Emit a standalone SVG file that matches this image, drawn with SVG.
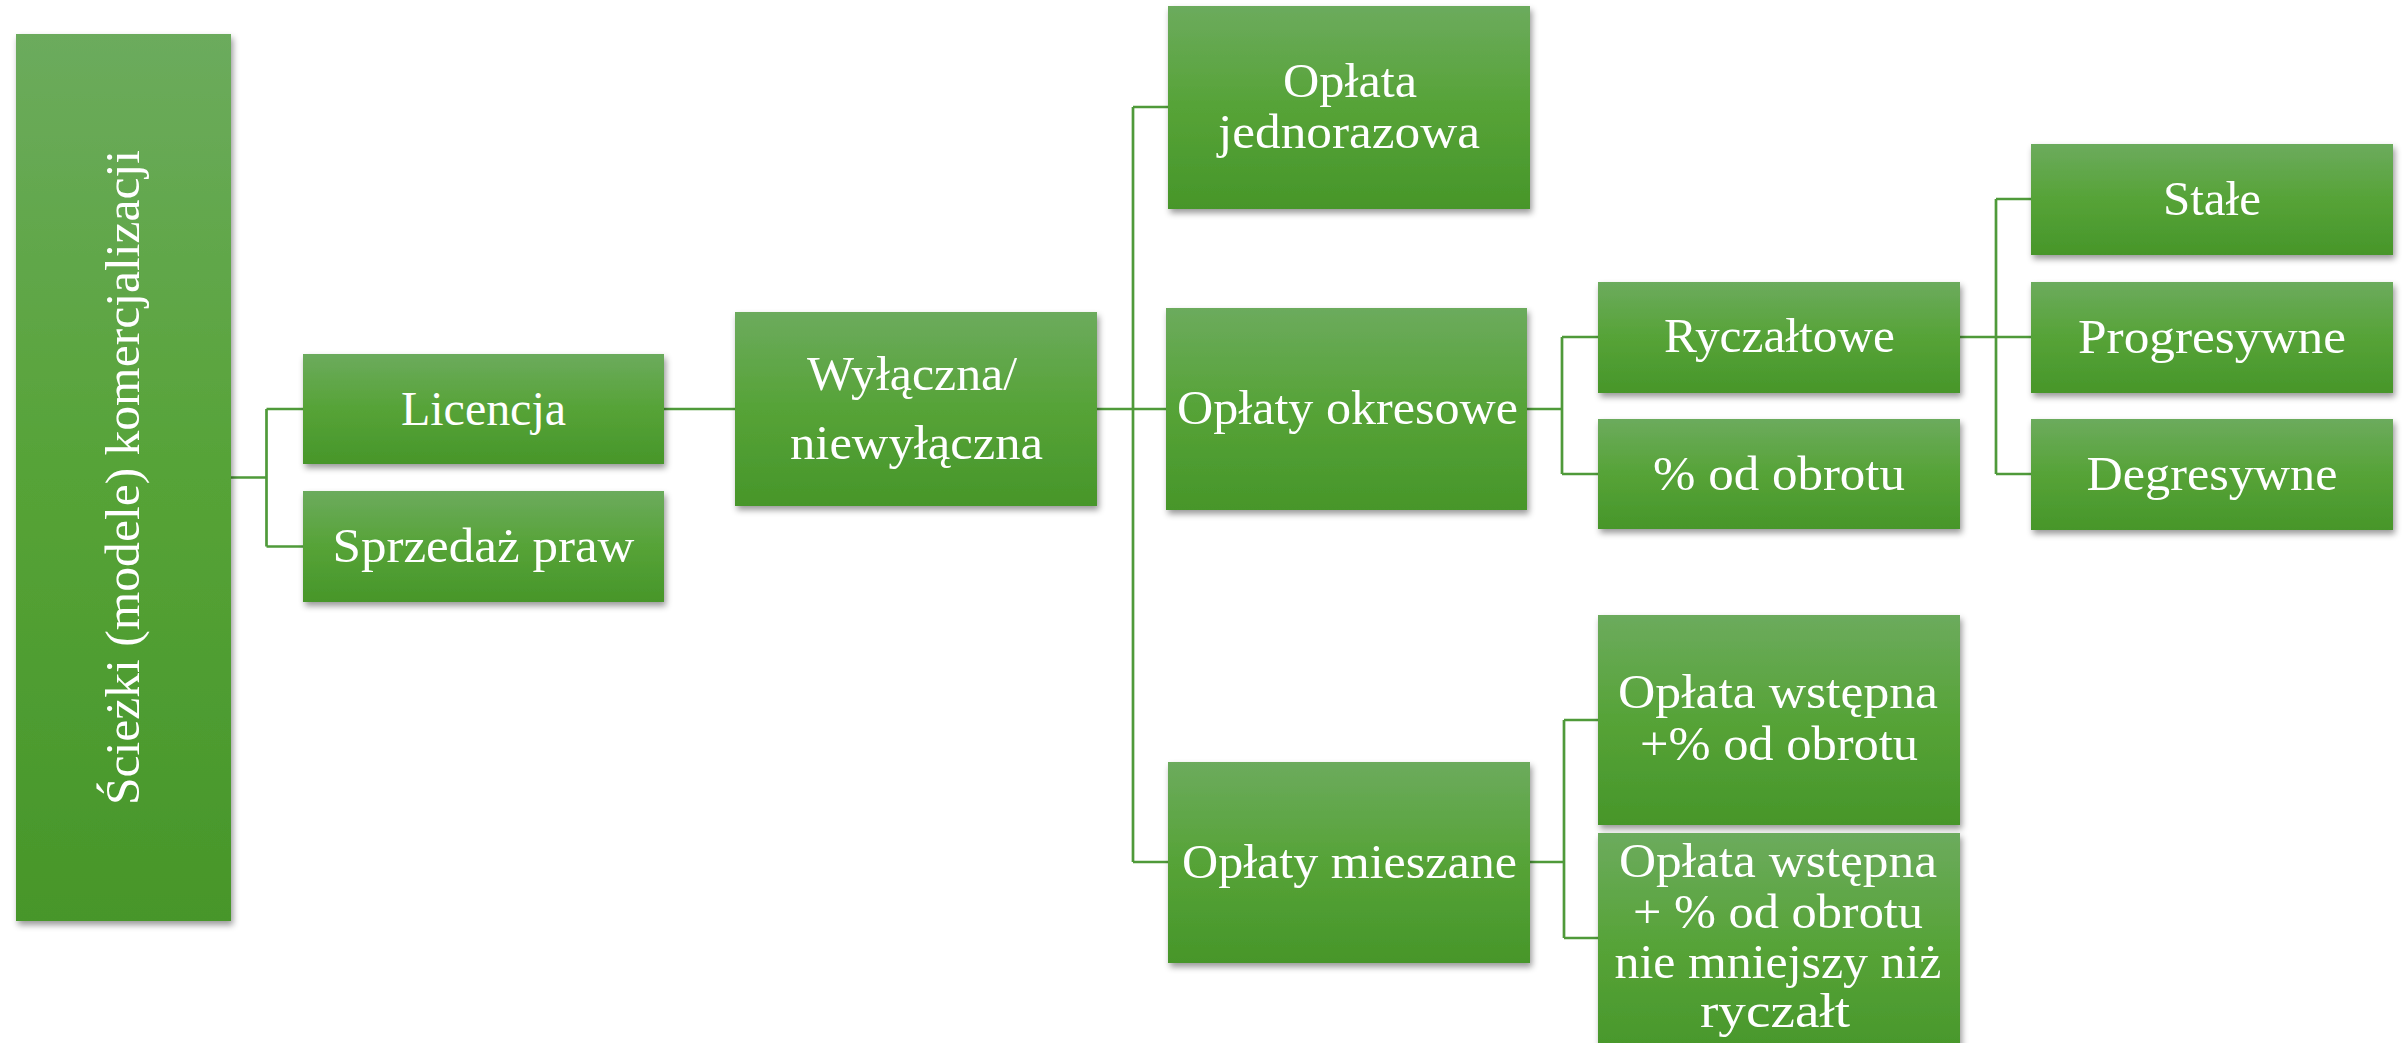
<svg xmlns="http://www.w3.org/2000/svg" width="2404" height="1043" viewBox="0 0 2404 1043">
<style>
.box{fill:url(#g);filter:url(#sh)}
.t{font-family:"Liberation Serif","DejaVu Serif",serif;font-size:48px;fill:#ffffff;text-anchor:middle}
.c{fill:none;stroke:#4f9a3a;stroke-width:2.7}
</style>
<defs>
<linearGradient id="g" x1="0" y1="0" x2="0" y2="1">
<stop offset="0" stop-color="#6cab5d"/>
<stop offset="0.5" stop-color="#56a337"/>
<stop offset="1" stop-color="#47962a"/>
</linearGradient>
<filter id="sh" x="-10%" y="-10%" width="125%" height="130%">
<feDropShadow dx="2" dy="4" stdDeviation="3" flood-color="#000" flood-opacity="0.4"/>
</filter>
</defs>
<rect width="2404" height="1043" fill="#ffffff"/>
<g id="connectors">
<path class="c" d="M231 477.5H266.5M266.5 409V546.5M266.5 409H303M266.5 546.5H303"/>
<path class="c" d="M664 409H735"/>
<path class="c" d="M1097 409H1133M1133 107V862M1133 107H1168M1133 409H1166M1133 862H1168"/>
<path class="c" d="M1527 409H1562M1562 337V474M1562 337H1598M1562 474H1598"/>
<path class="c" d="M1960 337H1996M1996 199V474M1996 199H2031M1996 337H2031M1996 474H2031"/>
<path class="c" d="M1530 862H1564M1564 720V938M1564 720H1598M1564 938H1598"/>
</g>
<g id="root">
<rect class="box" x="16" y="34" width="215" height="887"/>
<text class="t" font-size="46" transform="translate(139 477.5) rotate(-90)" x="0" y="0" textLength="655" lengthAdjust="spacingAndGlyphs">Ścieżki (modele) komercjalizacji</text>
</g>
<g id="licencja">
<rect class="box" x="303" y="354" width="361" height="110"/>
<text class="t" x="483.5" y="425" textLength="165" lengthAdjust="spacingAndGlyphs">Licencja</text>
</g>
<g id="sprzedaz">
<rect class="box" x="303" y="491" width="361" height="111"/>
<text class="t" x="483.5" y="562" textLength="302" lengthAdjust="spacingAndGlyphs">Sprzedaż praw</text>
</g>
<g id="wylaczna">
<rect class="box" x="735" y="312" width="362" height="194"/>
<text class="t" x="912" y="390" textLength="210" lengthAdjust="spacingAndGlyphs">Wyłączna/</text>
<text class="t" x="916.5" y="459" textLength="253" lengthAdjust="spacingAndGlyphs">niewyłączna</text>
</g>
<g id="jednorazowa">
<rect class="box" x="1168" y="6" width="362" height="203"/>
<text class="t" x="1350" y="97" textLength="134" lengthAdjust="spacingAndGlyphs">Opłata</text>
<text class="t" x="1349" y="148" textLength="262" lengthAdjust="spacingAndGlyphs">jednorazowa</text>
</g>
<g id="okresowe">
<rect class="box" x="1166" y="308" width="361" height="202"/>
<text class="t" x="1347.5" y="424" textLength="341" lengthAdjust="spacingAndGlyphs">Opłaty okresowe</text>
</g>
<g id="mieszane">
<rect class="box" x="1168" y="762" width="362" height="201"/>
<text class="t" x="1349.5" y="878" textLength="335" lengthAdjust="spacingAndGlyphs">Opłaty mieszane</text>
</g>
<g id="ryczaltowe">
<rect class="box" x="1598" y="282" width="362" height="111"/>
<text class="t" x="1779.5" y="352" textLength="231" lengthAdjust="spacingAndGlyphs">Ryczałtowe</text>
</g>
<g id="procent">
<rect class="box" x="1598" y="419" width="362" height="110"/>
<text class="t" x="1779" y="490" textLength="252" lengthAdjust="spacingAndGlyphs">% od obrotu</text>
</g>
<g id="stale">
<rect class="box" x="2031" y="144" width="362" height="111"/>
<text class="t" x="2212" y="215" textLength="98" lengthAdjust="spacingAndGlyphs">Stałe</text>
</g>
<g id="progresywne">
<rect class="box" x="2031" y="282" width="362" height="111"/>
<text class="t" x="2212" y="353" textLength="268" lengthAdjust="spacingAndGlyphs">Progresywne</text>
</g>
<g id="degresywne">
<rect class="box" x="2031" y="419" width="362" height="111"/>
<text class="t" x="2212" y="490" textLength="251" lengthAdjust="spacingAndGlyphs">Degresywne</text>
</g>
<g id="wstepna1">
<rect class="box" x="1598" y="615" width="362" height="210"/>
<text class="t" x="1778" y="708" textLength="320" lengthAdjust="spacingAndGlyphs">Opłata wstępna</text>
<text class="t" x="1779" y="760" textLength="278" lengthAdjust="spacingAndGlyphs">+% od obrotu</text>
</g>
<g id="wstepna2">
<rect class="box" x="1598" y="833" width="362" height="230"/>
<text class="t" x="1778" y="877" textLength="318" lengthAdjust="spacingAndGlyphs">Opłata wstępna</text>
<text class="t" x="1778" y="928" textLength="290" lengthAdjust="spacingAndGlyphs">+ % od obrotu</text>
<text class="t" x="1778" y="978" textLength="327" lengthAdjust="spacingAndGlyphs">nie mniejszy niż</text>
<text class="t" x="1775" y="1027" textLength="150" lengthAdjust="spacingAndGlyphs">ryczałt</text>
</g>
</svg>
